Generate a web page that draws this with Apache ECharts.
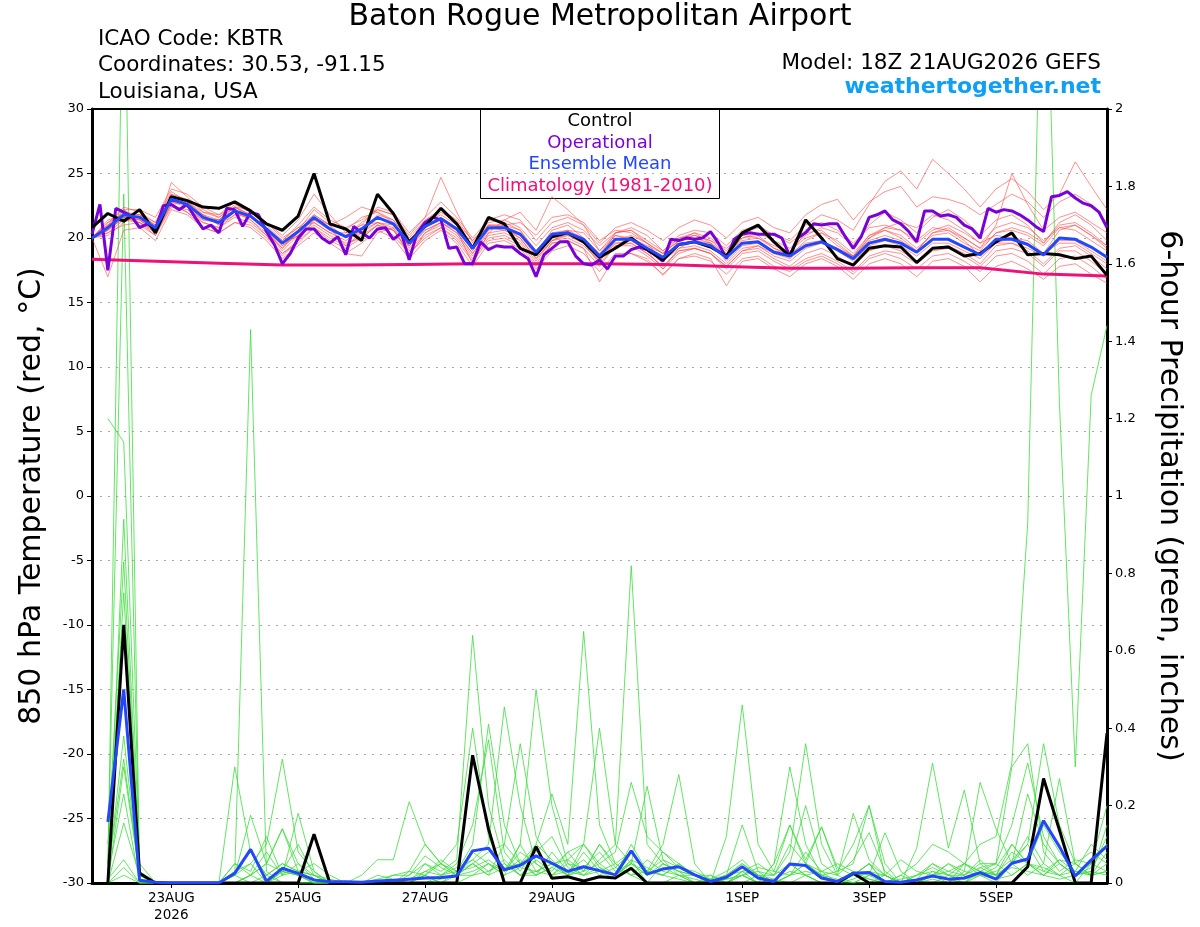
<!DOCTYPE html>
<html>
<head>
<meta charset="utf-8">
<title>KBTR GEFS meteogram</title>
<script src="https://cdn.jsdelivr.net/npm/echarts@6.0.0/dist/echarts.min.js"></script>
<style>
  html, body { margin: 0; padding: 0; background: #fff; }
  #chart { width: 1200px; height: 927px; }
</style>
</head>
<body>
<div id="chart"></div>
<script>
// x axis: forecast hours from 18Z 21AUG2026
const tickHours = [30, 78, 126, 174, 246, 294, 342];
const tickLabels = ['23AUG\n2026', '25AUG', '27AUG', '29AUG', '1SEP', '3SEP', '5SEP'];

// 850 hPa temperature, 6-hourly, hour 0..384
const controlTemp = [
  20.8, 21.9, 21.3, 22.2, 20.4, 23.2, 22.9, 22.4,
  22.3, 22.8, 22.1, 21.1, 20.6, 21.7, 25.0, 21.1,
  20.7, 19.8, 23.4, 21.9, 19.7, 20.9, 22.3, 21.1,
  19.2, 21.6, 21.1, 19.2, 18.7, 20.1, 20.4, 19.7,
  18.5, 19.2, 20.0, 19.1, 18.3, 19.5, 19.7, 19.3,
  18.6, 20.4, 21.0, 19.7, 18.6, 21.4, 20.0, 18.4,
  17.9, 19.2, 19.4, 19.3, 18.1, 19.2, 19.3, 18.6,
  18.8, 19.7, 20.4, 18.7, 18.8, 18.7, 18.4, 18.6,
  17.1
];
const meanTemp = [
  20.0, 20.8, 21.8, 21.6, 20.8, 23.0, 22.6, 21.6,
  21.2, 22.1, 21.7, 20.7, 19.6, 20.5, 21.6, 20.7,
  20.1, 20.7, 21.6, 21.1, 19.6, 20.9, 21.5, 20.7,
  19.2, 20.8, 20.8, 20.3, 18.9, 20.3, 20.4, 19.9,
  18.6, 19.9, 19.9, 19.2, 18.5, 19.5, 19.7, 19.4,
  18.5, 19.6, 19.7, 18.9, 18.6, 19.4, 19.7, 19.1,
  18.4, 19.6, 19.9, 19.6, 18.9, 19.9, 19.9, 19.3,
  18.7, 19.9, 19.9, 19.5, 18.7, 20.0, 19.9, 19.3,
  18.5
];
// operational run, 3-hourly, hour 0..384
const operationalTemp = [
  20.3, 22.6, 17.5, 22.3, 22.0, 21.7, 20.8, 21.1, 20.7, 22.5, 22.6, 22.2, 22.6, 21.6, 20.7, 21.0,
  20.4, 22.3, 22.2, 20.9, 22.0, 21.8, 20.5, 19.5, 18.0, 18.8, 20.0, 20.7, 20.7, 20.0, 19.6, 20.1,
  18.7, 20.9, 20.4, 20.0, 20.7, 20.8, 19.9, 20.4, 18.3, 20.4, 21.2, 21.6, 21.4, 19.2, 19.3, 18.0,
  18.0, 19.7, 19.1, 19.4, 19.3, 19.3, 18.8, 18.4, 17.0, 18.7, 19.2, 19.7, 19.7, 18.6, 18.0, 17.9,
  18.3, 17.6, 18.6, 18.6, 19.1, 19.3, 19.1, 18.7, 18.2, 19.9, 19.8, 20.0, 19.9, 20.0, 20.5, 19.6,
  18.4, 19.9, 20.3, 20.4, 20.3, 20.3, 20.3, 20.0, 18.6, 20.0, 20.4, 21.1, 21.0, 21.1, 21.1, 20.1,
  19.2, 20.1, 21.6, 21.8, 22.1, 21.4, 21.1, 20.5, 19.7, 22.1, 22.1, 21.7, 21.8, 21.6, 21.0, 20.7,
  20.0, 22.3, 22.0, 22.2, 22.1, 21.8, 21.4, 20.9, 20.5, 23.2, 23.3, 23.6, 23.1, 22.7, 22.5, 22.0,
  20.8
];
// climatology, daily, hour 0..384
const climTemp = [18.35, 18.2, 18.05, 17.9, 17.9, 17.95, 18.0, 18.0, 18.0, 17.95, 17.8, 17.65, 17.65, 17.7, 17.7, 17.2, 17.05];

// ensemble members, 6-hourly, hour 0..384
const memberTemps = [
  [20.0,21.0,22.0,21.8,21.2,23.4,23.0,22.2, 21.6,22.6,22.0,21.0,19.8,21.0,22.4,21.4, 20.8,21.4,22.2,21.8,20.2,21.6,22.8,21.6, 20.0,21.4,21.8,21.4,19.8,21.2,21.6,21.0, 19.6,20.8,21.2,20.6,19.8,20.8,21.4,21.0, 20.0,21.2,21.6,20.8,20.4,21.8,22.6,23.0, 21.4,22.8,23.6,24.0,22.4,23.2,23.0,22.6, 21.8,22.6,23.4,22.8,21.6,22.8,23.4,22.6, 21.2],
  [20.0,20.6,21.6,21.4,20.6,23.2,22.4,21.4, 21.4,22.4,21.8,20.6,19.4,20.2,21.2,20.4, 19.8,20.6,21.2,20.8,19.4,21.0,22.0,21.2, 19.8,21.2,21.4,20.8,19.4,20.8,21.2,20.6, 19.4,20.4,20.8,20.2,19.0,20.2,20.6,20.4, 19.4,20.6,21.0,20.2,19.8,21.0,21.8,21.4, 20.6,22.6,24.4,25.2,23.8,26.1,25.0,23.8, 22.4,23.8,24.6,23.6,22.2,23.4,25.9,24.0, 22.2],
  [20.0,17.0,20.6,20.8,19.8,22.2,21.8,20.8, 20.4,21.2,20.8,19.8,18.4,19.4,20.4,19.6, 18.8,19.6,20.6,20.0,18.4,19.8,20.6,19.6, 17.8,19.6,19.8,19.2,17.6,19.0,19.4,18.8, 17.4,18.8,18.8,18.2,17.2,18.4,18.6,18.2, 17.2,18.4,18.6,17.8,17.4,18.2,18.6,18.0, 17.2,18.4,18.8,18.4,17.6,18.6,18.8,18.2, 17.4,18.6,18.8,18.2,17.2,18.4,18.6,17.8, 16.8],
  [20.0,21.2,22.2,21.4,20.4,24.3,23.2,22.0, 21.8,22.8,22.2,21.2,20.2,21.4,23.4,21.8, 20.4,21.0,22.4,22.0,20.4,21.6,24.7,22.0, 19.6,21.4,21.2,20.6,18.8,20.6,21.0,20.0, 18.4,20.4,20.6,19.6,18.2,19.8,20.4,19.6, 18.6,20.0,20.2,19.2,18.6,19.8,20.4,19.4, 18.6,20.0,20.6,20.0,19.0,20.4,20.8,20.0, 19.2,21.0,25.0,22.6,20.6,21.6,22.0,21.2, 20.4],
  [20.0,20.4,21.4,21.2,20.2,22.6,22.0,21.2, 20.8,21.6,21.2,20.2,18.8,19.8,20.8,20.0, 19.4,20.2,21.0,20.6,19.0,20.4,21.0,20.2, 18.6,20.2,20.4,19.8,18.2,19.8,20.2,19.6, 18.0,19.4,19.6,18.8,17.8,19.0,19.2,18.8, 17.8,19.0,19.2,18.4,17.8,18.8,19.2,18.6, 17.8,19.0,19.4,19.0,18.2,19.2,19.4,18.8, 18.0,19.4,19.6,19.0,18.0,19.2,19.4,18.6, 17.6],
  [20.0,21.0,22.4,22.0,21.2,23.6,22.8,21.8, 21.4,22.2,21.4,20.4,19.2,20.6,22.2,21.2, 20.6,21.6,22.0,21.2,19.2,20.6,21.2,20.4, 18.8,20.6,21.0,21.2,20.2,21.6,21.8,21.2, 19.8,20.6,20.4,19.6,18.8,19.8,20.2,19.8, 18.8,20.0,20.4,19.8,19.2,20.2,20.8,20.4, 19.4,21.0,22.0,21.4,20.4,21.6,22.2,21.4, 20.2,21.4,21.8,21.0,19.6,21.2,21.8,21.0, 19.8],
  [20.0,20.2,21.2,21.8,21.0,22.8,22.6,21.8, 21.0,21.8,21.6,20.8,19.6,20.2,21.0,20.2, 19.6,20.0,21.0,20.6,18.8,20.2,20.8,20.0, 18.4,20.0,20.2,19.6,18.0,19.6,19.8,19.2, 17.8,19.4,19.4,18.6,17.6,18.8,19.2,18.8, 17.6,18.8,19.0,18.2,17.6,18.4,18.8,18.2, 17.4,18.6,19.0,18.8,18.0,19.0,19.2,18.6, 17.8,19.0,19.2,18.8,17.8,19.0,19.0,18.2, 17.2],
  [20.0,21.4,21.8,21.0,20.2,22.4,22.2,21.4, 21.2,22.0,21.4,20.2,18.6,19.8,21.4,20.8, 19.4,20.4,21.8,21.4,19.8,21.2,21.8,21.0, 19.4,21.0,21.0,20.6,19.0,20.4,20.6,20.0, 18.8,20.2,20.0,19.4,18.8,19.8,20.0,19.6, 18.8,19.8,20.0,19.4,19.0,20.0,20.4,19.8, 18.8,20.2,20.6,20.2,19.2,20.2,20.4,19.6, 19.0,20.4,20.6,20.2,19.4,20.8,20.6,19.8, 19.0],
  [20.0,20.8,21.4,21.6,20.6,22.8,22.4,21.2, 20.8,21.8,21.8,20.8,19.8,20.8,21.2,20.4, 20.4,21.0,21.2,20.6,19.4,20.6,21.2,20.4, 18.8,20.4,20.6,20.0,18.4,19.8,20.0,19.4, 18.2,19.6,19.8,19.0,18.2,19.2,19.4,19.0, 18.0,19.2,19.4,18.8,18.4,19.4,19.6,19.0, 18.2,19.4,19.8,19.4,18.6,19.6,19.6,19.0, 18.4,19.6,19.6,19.2,18.6,19.8,19.8,19.0, 18.2],
  [20.0,20.6,22.2,22.2,21.6,23.8,23.4,22.4, 21.8,22.4,21.6,20.6,19.0,20.2,21.6,21.0, 18.8,18.6,20.4,20.8,18.6,20.4,21.2,20.6, 18.0,20.4,21.4,22.0,20.6,23.2,22.2,21.0, 19.0,20.2,19.8,19.0,17.6,19.2,19.8,19.6, 18.2,19.4,19.6,19.0,18.8,20.4,20.6,19.6, 18.6,20.2,20.8,21.2,20.8,21.8,21.4,20.6, 19.6,20.2,20.0,19.6,18.8,20.6,21.0,20.2, 19.2],
  [20.0,20.6,21.6,21.4,20.6,22.6,22.0,20.8, 20.4,21.2,21.0,20.0,18.8,19.6,20.8,19.8, 19.2,20.0,21.0,20.2,18.8,20.0,20.8,19.8, 18.2,19.8,20.0,19.4,17.8,19.6,19.8,19.2, 16.6,18.6,18.8,18.4,17.1,18.4,18.8,18.4, 16.3,18.2,18.4,17.6,17.0,18.0,18.4,17.8, 16.8,18.0,18.4,18.0,17.0,18.2,18.4,17.8, 16.6,17.8,18.2,17.6,16.8,17.8,18.0,17.2, 16.5],
  [20.0,21.2,21.8,21.8,21.0,23.0,22.8,21.8, 21.0,22.0,21.6,20.8,19.4,20.4,21.8,21.0, 21.6,22.4,22.0,21.4,19.8,21.0,21.6,20.8, 19.0,20.8,20.6,20.2,18.8,20.2,20.6,20.4, 19.0,20.4,20.6,19.8,19.0,20.0,20.2,19.8, 19.2,20.2,20.0,19.2,18.8,19.6,19.8,19.2, 18.6,19.8,20.2,19.8,19.0,20.4,20.6,20.0, 19.2,20.4,20.8,20.4,19.6,21.0,21.2,20.4, 19.4],
  [20.0,20.4,21.0,21.2,20.4,22.6,22.8,22.0, 21.6,22.4,21.8,20.6,19.2,20.4,21.4,20.6, 20.2,21.2,22.2,21.8,20.0,21.4,22.2,21.4, 19.8,21.0,20.8,20.0,18.4,19.8,20.4,19.8, 18.4,19.6,19.6,18.8,17.8,19.0,19.2,18.8, 17.8,19.0,19.4,18.6,18.2,19.2,19.6,19.2, 18.4,20.0,20.8,20.6,19.8,20.8,20.6,19.8, 18.6,19.6,20.0,19.8,18.8,19.6,19.6,18.8, 18.0],
  [20.0,21.0,21.6,21.2,20.6,23.4,22.6,21.6, 21.4,22.4,22.2,21.2,20.0,20.8,21.8,21.0, 20.0,20.4,21.2,21.0,19.4,20.8,21.6,20.8, 19.4,21.0,21.0,20.2,18.6,20.0,20.2,19.6, 18.2,19.8,20.2,19.6,18.8,20.0,20.4,20.0, 19.0,20.4,20.8,20.2,19.6,20.6,21.2,20.6, 19.6,20.8,21.0,20.6,19.6,20.6,21.0,20.4, 19.6,20.8,21.2,20.8,19.8,20.8,21.0,20.2, 19.4]
];

// 6-hour precipitation (inches), hour 6..384
const controlPrecip = [
  0, 0.667, 0.025, 0, 0, 0, 0, 0,
  0, 0, 0, 0, 0, 0.126, 0, 0,
  0, 0, 0, 0, 0, 0, 0, 0.33,
  0.14, 0, 0, 0.094, 0.012, 0.016, 0.005, 0.016,
  0.013, 0.038, 0, 0, 0, 0, 0, 0,
  0, 0, 0, 0, 0, 0, 0, 0.025,
  0, 0, 0, 0, 0, 0, 0, 0,
  0, 0, 0.042, 0.27, 0.137, 0, 0, 0.387
];
const meanPrecip = [
  0.158, 0.50, 0.007, 0.002, 0, 0, 0, 0,
  0.025, 0.087, 0.005, 0.038, 0.025, 0.008, 0.003, 0.003,
  0.002, 0.005, 0.007, 0.01, 0.013, 0.014, 0.018, 0.083,
  0.09, 0.034, 0.046, 0.07, 0.051, 0.03, 0.042, 0.032,
  0.021, 0.083, 0.023, 0.036, 0.042, 0.021, 0.004, 0.015,
  0.042, 0.013, 0.004, 0.049, 0.045, 0.013, 0.004, 0.025,
  0.027, 0.004, 0.002, 0.008, 0.018, 0.01, 0.013, 0.027,
  0.01, 0.051, 0.062, 0.161, 0.094, 0.018, 0.059, 0.095
];
const memberPrecips = [
  [0.02,2.5,0.03,0,0,0,0,0, 0.02,0.05,0,0.03,0.02,0,0,0, 0,0,0,0.01,0.03,0.05,0.1,0.40, 0.12,0.03,0.08,0.05,0.02,0.06,0.03,0.1, 0.04,0.02,0,0.05,0.03,0,0,0.02, 0.15,0.03,0,0.05,0.02,0,0,0.02, 0.05,0,0,0,0.01,0,0.03,0.02, 0,0.05,0.12,0.05,0.02,0,0.05,0.1],
  [0.05,1.78,0.02,0,0,0,0,0, 0.03,0.08,0.02,0,0,0,0,0, 0,0,0,0,0,0.02,0.05,0.15, 0.37,0.08,0.03,0.1,0.06,0.02,0.04,0.03, 0.01,0.06,0,0,0.02,0,0,0.01, 0.02,0,0.05,0.30,0.1,0.02,0,0.03, 0.02,0,0,0.02,0.05,0.02,0,0.02, 0.04,0.1,0.05,0.15,0.08,0.03,0.02,0.05],
  [1.20,1.14,0.05,0,0,0,0,0, 0,0.02,0.05,0.14,0.03,0,0,0, 0,0,0,0,0.02,0,0.02,0.05, 0.02,0.1,0.05,0.02,0.08,0.03,0.02,0.06, 0.1,0.05,0.25,0.06,0.02,0,0.01,0, 0.03,0.02,0,0.02,0.08,0.03,0.02,0.18, 0.06,0.02,0,0,0.03,0.01,0,0.04, 0.02,0.08,0.05,0.03,0.06,0.05,0.02,0.08],
  [0,0.94,0.02,0,0,0,0,0, 0.02,1.43,0.03,0,0,0,0,0, 0,0,0,0,0,0,0,0.02, 0.05,0.02,0.1,0.03,0.05,0.02,0.08,0.03, 0.02,0.05,0.03,0.1,0.28,0.05,0,0.02, 0.03,0,0,0.05,0.02,0,0,0.01, 0.03,0.02,0,0,0.02,0.03,0.05,0.1, 0.12,0.31,0.93,2.66,1.24,0.30,1.26,1.44],
  [0.1,0.83,0.02,0,0,0,0,0, 0.05,0.02,0.08,0.02,0.18,0.03,0,0, 0,0,0,0,0.02,0,0.03,0.06, 0.03,0.05,0.02,0.06,0.03,0.08,0.1,0.04, 0.02,0.06,0.04,0.02,0.05,0.02,0,0.12, 0.46,0.1,0.03,0.15,0.05,0.02,0,0, 0,0.02,0.06,0.03,0.02,0,0.05,0.03, 0.02,0.05,0.1,0.36,0.15,0.05,0.02,0.03],
  [0.05,0.75,0.03,0,0,0,0,0, 0.02,0.175,0.05,0.03,0.02,0,0,0, 0,0,0,0,0,0.01,0.02,0.08, 0.05,0.03,0.06,0.02,0.04,0.02,0.03,0.1, 0.05,0.02,0.06,0.03,0.02,0.01,0,0, 0.02,0,0.05,0.15,0.06,0.145,0.04,0.02, 0.05,0.02,0,0.09,0.31,0.09,0.24,0.05, 0.02,0.05,0.02,0.05,0.27,0.05,0.02,0.03],
  [0.02,0.38,0,0,0,0,0,0, 0.02,0,0,0.03,0.1,0.02,0,0, 0,0,0,0.02,0.05,0.03,0.06,0.64, 0.2,0.05,0.02,0.03,0.02,0.05,0.02,0.04, 0.02,0.05,0.02,0.08,0.04,0.02,0,0.01, 0.02,0.03,0.02,0.08,0.36,0.1,0.02,0, 0.02,0.13,0.03,0,0.02,0.05,0.03,0.26, 0.14,0.05,0.23,0.1,0.05,0.02,0.03,0.12],
  [0.03,0.32,0.02,0,0,0,0,0, 0.30,0.08,0.02,0.05,0.03,0.02,0,0, 0,0,0.02,0.03,0.02,0.05,0.03,0.1, 0.41,0.15,0.05,0.08,0.12,0.04,0.02,0.03, 0.05,0.02,0.03,0.02,0.01,0,0.02,0, 0.03,0.05,0.02,0.1,0.05,0.145,0.03,0.05, 0.2,0.02,0,0,0.02,0.05,0.02,0.05, 0.05,0.3,0.36,0.08,0.03,0.06,0.05,0.2],
  [0,0.30,0.02,0,0,0,0,0, 0.05,0.03,0.12,0.02,0.05,0.01,0,0, 0,0,0,0,0.03,0.02,0.04,0.06, 0.1,0.455,0.2,0.05,0.02,0.03,0.06,0.02, 0.04,0.08,0.02,0.05,0.03,0.02,0,0, 0,0.02,0,0.02,0.05,0.02,0.03,0.1, 0.20,0.05,0,0.02,0.03,0.02,0.05,0.02, 0.03,0.06,0.1,0.03,0.02,0.05,0.08,0.05],
  [0.02,0.23,0,0,0,0,0,0, 0.03,0.05,0.1,0.32,0.08,0.03,0,0, 0,0,0,0.01,0.02,0.06,0.03,0.05, 0.08,0.1,0.36,0.12,0.05,0.02,0.1,0.05, 0.02,0.1,0.03,0.06,0.04,0.03,0.01,0.02, 0.05,0.02,0.02,0.05,0.2,0.05,0.02,0.06, 0.13,0.03,0,0.01,0.05,0.03,0.02,0.04, 0.05,0.02,0.05,0.04,0.02,0.03,0.02,0.15],
  [0,0.155,0.02,0,0,0,0,0, 0,0.02,0.05,0.14,0.05,0.02,0,0, 0,0.02,0.01,0,0.05,0.02,0.03,0.04, 0.06,0.03,0.1,0.50,0.2,0.05,0.04,0.08, 0.03,0.05,0.02,0.04,0.02,0.02,0,0, 0.02,0.04,0.03,0.02,0.05,0.03,0,0.02, 0.05,0,0.01,0.02,0.04,0.02,0.02,0.06, 0.02,0.04,0.03,0.02,0.05,0.02,0.03,0.02],
  [0.01,0.06,0,0,0,0,0,0, 0,0,0.02,0.05,0.03,0.05,0.02,0, 0,0.01,0.02,0.02,0.07,0.04,0.02,0.05, 0.02,0.04,0.05,0.1,0.23,0.1,0.65,0.15, 0.05,0.08,0.03,0.02,0.05,0.02,0.02,0, 0.02,0,0.01,0.03,0.02,0,0,0.02, 0.01,0,0.02,0,0,0.02,0.01,0.02, 0.01,0.02,0.05,0.02,0.01,0.02,0.05,0.03],
  [0,0.04,0,0,0,0,0,0, 0,0,0,0.02,0.03,0.02,0.01,0, 0.02,0.06,0.06,0.21,0.1,0.05,0.02,0.03, 0.05,0.02,0.04,0.03,0.05,0.06,0.1,0.40, 0.1,0.82,0.1,0.05,0.03,0.02,0,0.02, 0.05,0.02,0,0.02,0.03,0.02,0.01,0, 0.02,0.02,0,0,0.02,0.01,0,0.03, 0.02,0.1,0.05,0.02,0.06,0.03,0.1,0.06],
  [0,0.02,0,0,0,0,0,0, 0,0.02,0,0.03,0.02,0,0,0, 0,0,0,0.03,0.1,0.05,0.02,0.02, 0.03,0.06,0.02,0.02,0.04,0.08,0.03,0.05, 0.08,0.26,0.12,0.08,0.05,0.02,0.01,0.03, 0.06,0.02,0.01,0,0.02,0.03,0.05,0.03, 0.01,0,0.02,0.05,0.1,0.08,0.05,0.03, 0.05,0.15,0.31,0.12,0.05,0.02,0.04,0.1]
];

const FONT = '"DejaVu Sans", "Liberation Sans", Arial, sans-serif';
const RED = 'rgba(255, 70, 70, 0.75)';
const GREEN = '#3ddc3d';
const PURPLE = '#7a00d8';
const BLUE = '#2247ff';
const PINK = '#ee1177';

const pairs = (arr, step, offset) => arr.map((v, i) => [offset + i * step, v]);

const series = [];
memberPrecips.forEach(m => series.push({
  type: 'line', yAxisIndex: 1, data: pairs(m, 6, 6), symbol: 'none',
  lineStyle: { color: GREEN, width: 0.8 }, z: 1, silent: true
}));
memberTemps.forEach(m => series.push({
  type: 'line', yAxisIndex: 0, data: pairs(m, 6, 0), symbol: 'none',
  lineStyle: { color: RED, width: 0.8 }, z: 2, silent: true
}));
series.push(
  { name: 'Climatology (1981-2010)', type: 'line', yAxisIndex: 0, data: pairs(climTemp, 24, 0), symbol: 'none', lineStyle: { color: PINK, width: 3 }, z: 3 },
  { name: 'Operational', type: 'line', yAxisIndex: 0, data: pairs(operationalTemp, 3, 0), symbol: 'none', lineStyle: { color: PURPLE, width: 3 }, z: 4 },
  { name: 'Control', type: 'line', yAxisIndex: 0, data: pairs(controlTemp, 6, 0), symbol: 'none', lineStyle: { color: '#000', width: 3 }, z: 5 },
  { name: 'Ensemble Mean', type: 'line', yAxisIndex: 0, data: pairs(meanTemp, 6, 0), symbol: 'none', lineStyle: { color: BLUE, width: 3 }, z: 6 },
  { name: 'Control precip', type: 'line', yAxisIndex: 1, data: pairs(controlPrecip, 6, 6), symbol: 'none', lineStyle: { color: '#000', width: 3 }, z: 5 },
  { name: 'Mean precip', type: 'line', yAxisIndex: 1, data: pairs(meanPrecip, 6, 6), symbol: 'none', lineStyle: { color: BLUE, width: 3 }, z: 6 }
);

const legendLines = [
  ['Control', '#000'],
  ['Operational', PURPLE],
  ['Ensemble Mean', BLUE],
  ['Climatology (1981-2010)', PINK]
];

const chart = echarts.init(document.getElementById('chart'));
chart.setOption({
  animation: false,
  backgroundColor: '#fff',
  textStyle: { fontFamily: FONT },
  grid: { left: 92, right: 93, top: 109, bottom: 44, show: true, borderColor: '#000', borderWidth: 2 },
  xAxis: {
    type: 'value', min: 0, max: 384,
    splitLine: { show: false },
    axisLine: { onZero: false, lineStyle: { color: '#000', width: 3 } },
    axisTick: { customValues: tickHours, length: 5, lineStyle: { color: '#000', width: 1 } },
    axisLabel: {
      customValues: tickHours, color: '#000', fontSize: 13.5, lineHeight: 17, margin: 7,
      formatter: v => tickLabels[tickHours.indexOf(v)] || ''
    }
  },
  yAxis: [
    {
      type: 'value', min: -30, max: 30, interval: 5, position: 'left',
      name: '850 hPa Temperature (red, °C)', nameLocation: 'middle', nameGap: 45,
      nameTextStyle: { fontSize: 30, color: '#000' },
      axisLine: { show: true, lineStyle: { color: '#000', width: 3 } },
      axisTick: { show: true, length: 5, lineStyle: { color: '#000' } },
      axisLabel: { color: '#000', fontSize: 13, margin: 8 },
      splitLine: { show: true, showMinLine: false, showMaxLine: false, lineStyle: { color: '#aaa', type: [2, 6], width: 1 } }
    },
    {
      type: 'value', min: 0, max: 2, interval: 0.2, position: 'right',
      name: '6-hour Precipitation (green, inches)', nameLocation: 'middle', nameGap: 47, nameRotate: -90,
      nameTextStyle: { fontSize: 30, color: '#000' },
      axisLine: { show: true, lineStyle: { color: '#000', width: 3 } },
      axisTick: { show: true, length: 5, lineStyle: { color: '#000' } },
      axisLabel: { color: '#000', fontSize: 13, margin: 8 },
      splitLine: { show: false }
    }
  ],
  graphic: [
    { type: 'text', left: 'center', top: 2, style: { text: 'Baton Rogue Metropolitan Airport', font: '30px ' + FONT, fill: '#000' } },
    { type: 'text', left: 98, top: 28, style: { text: 'ICAO Code: KBTR', font: '21.5px ' + FONT, fill: '#000' } },
    { type: 'text', left: 98, top: 54, style: { text: 'Coordinates: 30.53, -91.15', font: '21.5px ' + FONT, fill: '#000' } },
    { type: 'text', left: 98, top: 81, style: { text: 'Louisiana, USA', font: '21.5px ' + FONT, fill: '#000' } },
    { type: 'text', right: 99, top: 52, style: { text: 'Model: 18Z 21AUG2026 GEFS', font: '21.5px ' + FONT, fill: '#000' } },
    { type: 'text', right: 99, top: 76, style: { text: 'weathertogether.net', font: 'bold 22px ' + FONT, fill: '#0fa0f5' } },
    // plot frame top edge
    { type: 'line', shape: { x1: 92, y1: 109, x2: 1107, y2: 109 }, style: { stroke: '#000', lineWidth: 2 }, z: 50 },
    {
      type: 'group', left: 480, top: 108, z: 100,
      children: [
        { type: 'rect', shape: { x: 0, y: 0, width: 239, height: 90 }, style: { fill: '#fff', stroke: '#000', lineWidth: 1 } }
      ].concat(legendLines.map((l, i) => ({
        type: 'text', x: 119.5, y: 13 + i * 21.5,
        style: { text: l[0], font: '18px ' + FONT, fill: l[1], align: 'center', verticalAlign: 'middle' }
      })))
    }
  ],
  series: series
});
</script>
</body>
</html>
